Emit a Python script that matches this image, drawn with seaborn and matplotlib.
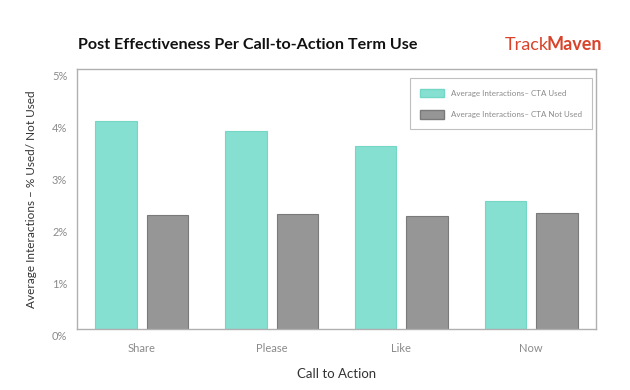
import matplotlib
matplotlib.use("Agg")
import matplotlib.pyplot as plt
import matplotlib.transforms as mtransforms
from matplotlib.patches import Patch
import seaborn as sns
import pandas as pd

categories = ["Share", "Please", "Like", "Now"]
cta_used = [4.00, 3.81, 3.52, 2.47]
cta_not_used = [2.19, 2.22, 2.17, 2.23]
series_names = ["Average Interactions\u2013 CTA Used", "Average Interactions\u2013 CTA Not Used"]
y_ticks = [0, 1, 2, 3, 4, 5]
y_tick_labels = ["0%", "1%", "2%", "3%", "4%", "5%"]

df = pd.DataFrame({
    "cat": categories * 2,
    "val": cta_used + cta_not_used,
    "series": [series_names[0]] * 4 + [series_names[1]] * 4,
})

sns.set_style("white")
plt.rcParams["font.family"] = ["Lato", "DejaVu Sans"]

fig = plt.figure(figsize=(6.3, 3.9), dpi=100)
ax = fig.add_axes([77 / 630, 1 - 329 / 390, (596 - 77) / 630, (329 - 69) / 390])

teal = "#86e0d2"
grey = "#969696"
sns.barplot(data=df, x="cat", y="val", hue="series", order=categories,
            hue_order=series_names, palette=[teal, grey], width=0.792, gap=0.194,
            ax=ax, legend=False, saturation=1)
edges = ["#74d6c5"] * 4 + ["#7a7a7a"] * 4
for p, ec in zip(ax.patches, edges):
    p.set_edgecolor(ec)
    p.set_linewidth(0.8)

ax.set_xlim(-0.5, 3.5)
ax.set_ylim(0, 5)
ax.set_yticks(y_ticks)
ax.set_yticklabels(y_tick_labels)
ax.tick_params(axis="y", length=0, pad=7, labelsize=8, labelcolor="#8a8a8a")
ax.tick_params(axis="x", length=0, pad=10, labelsize=8, labelcolor="#8a8a8a")
offset = mtransforms.ScaledTranslation(0, -6 / 100, fig.dpi_scale_trans)
for lab in ax.get_yticklabels():
    lab.set_transform(lab.get_transform() + offset)
for s in ax.spines.values():
    s.set_visible(True)
    s.set_color("#b0b0b0")
    s.set_linewidth(1.0)

ax.set_xlabel("Call to Action", fontsize=9.5, color="#333333", labelpad=10)
ax.set_ylabel("Average Interactions \u2013 % Used/ Not Used", fontsize=8.5, color="#333333", labelpad=11)

handles = [Patch(facecolor=teal, edgecolor="#74d6c5"), Patch(facecolor=grey, edgecolor="#7a7a7a")]
leg = ax.legend(handles, series_names, loc="upper right", bbox_to_anchor=(0.993, 0.965),
                fontsize=5.8, frameon=True, fancybox=False, handlelength=3.0, handleheight=1.3,
                borderpad=1.3, labelspacing=1.6, handletextpad=0.8, borderaxespad=0)
leg.get_frame().set_edgecolor("#b0b0b0")
leg.get_frame().set_linewidth(0.8)
for t in leg.get_texts():
    t.set_color("#8a8a8a")

fig.text(78 / 630, 1 - 45 / 390, "Post Effectiveness Per Call-to-Action Term Use",
         fontsize=11.6, fontweight="bold", color="#111111", va="center", ha="left")
fig.text(505 / 630, 1 - 45 / 390, "Track", fontsize=13, color="#d9432a", va="center", ha="left")
fig.text(546 / 630, 1 - 45 / 390, "Maven", fontsize=13, fontweight="bold", color="#d9432a", va="center", ha="left")

fig.savefig("out.png", dpi=100)
